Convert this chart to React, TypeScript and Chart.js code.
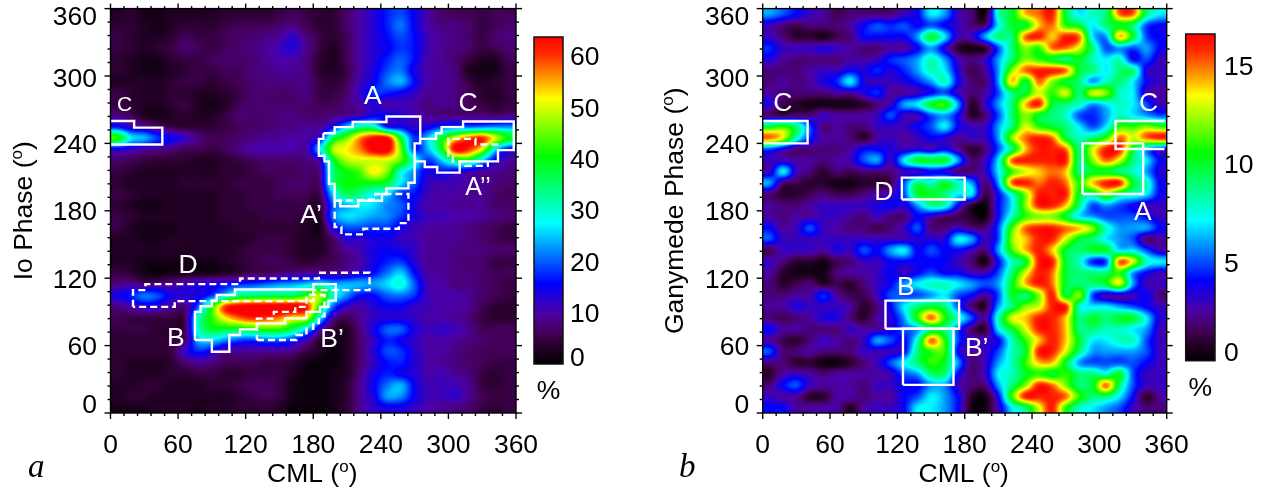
import { useEffect, useRef } from "react";
import { Chart, registerables } from "chart.js";

Chart.register(...registerables);

const FONT = '"Liberation Sans", Arial, sans-serif';
const TEXT_SIZE = 26.5;

// cell centres of the occurrence maps, degrees
const cml = [6, 18, 30, 42, 54, 66, 78, 90, 102, 114, 126, 138, 150, 162, 174, 186, 198, 210, 222, 234, 246, 258, 270, 282, 294, 306, 318, 330, 342, 354];
const phase = [355, 345, 335, 325, 315, 305, 295, 285, 275, 265, 255, 245, 235, 225, 215, 205, 195, 185, 175, 165, 155, 145, 135, 125, 115, 105, 95, 85, 75, 65, 55, 45, 35, 25, 15, 5];

const axisLabels = [0, 60, 120, 180, 240, 300, 360];
const minorTicks = [12, 24, 36, 48, 72, 84, 96, 108, 132, 144, 156, 168, 192, 204, 216, 228, 252, 264, 276, 288, 312, 324, 336, 348];

// one row per phase, top of the map first
const ioPercent = [
  [3, 4, 2, 2, 3, 3, 3, 3, 4, 4, 4, 4, 5, 6, 5, 4, 4, 7, 10, 13, 17, 19, 15, 10, 7, 6, 6, 5, 6, 6],
  [4, 4, 3, 2, 3, 4, 4, 4, 5, 6, 6, 6, 7, 8, 6, 4, 4, 7, 10, 13, 17, 21, 15, 10, 8, 8, 7, 5, 6, 7],
  [5, 4, 3, 3, 4, 6, 5, 5, 6, 7, 7, 8, 9, 12, 8, 5, 4, 6, 10, 13, 16, 19, 16, 11, 9, 8, 7, 5, 7, 8],
  [5, 4, 3, 4, 5, 7, 6, 5, 6, 7, 8, 9, 11, 13, 9, 5, 3, 6, 10, 13, 15, 18, 16, 11, 9, 8, 7, 5, 6, 7],
  [4, 3, 2, 2, 4, 5, 5, 6, 7, 7, 7, 9, 10, 10, 8, 4, 3, 6, 10, 13, 17, 20, 16, 10, 9, 7, 5, 3, 3, 6],
  [4, 3, 2, 2, 3, 4, 5, 5, 6, 6, 8, 8, 9, 9, 8, 4, 3, 5, 10, 14, 19, 21, 14, 10, 9, 8, 3, 2, 2, 5],
  [3, 3, 3, 3, 4, 5, 5, 4, 5, 6, 7, 8, 8, 8, 8, 5, 4, 6, 11, 15, 21, 24, 16, 10, 9, 8, 5, 3, 4, 5],
  [5, 4, 3, 3, 4, 4, 3, 3, 4, 5, 7, 7, 7, 7, 8, 5, 5, 7, 12, 18, 17, 15, 12, 9, 9, 8, 6, 4, 3, 5],
  [5, 4, 3, 3, 4, 5, 3, 2, 3, 6, 7, 7, 7, 7, 7, 6, 6, 8, 10, 13, 10, 11, 10, 8, 9, 8, 6, 5, 4, 5],
  [8, 6, 3, 2, 3, 4, 3, 3, 5, 7, 7, 7, 8, 8, 7, 7, 8, 9, 11, 15, 15, 13, 11, 9, 8, 8, 8, 8, 7, 8],
  [16, 12, 10, 7, 5, 4, 4, 4, 5, 6, 7, 7, 8, 8, 9, 9, 15, 25, 32, 31, 16, 15, 12, 14, 18, 20, 20, 21, 22, 22],
  [42, 27, 24, 18, 15, 12, 8, 6, 6, 7, 8, 9, 9, 10, 10, 14, 36, 45, 56, 63, 63, 38, 18, 25, 38, 50, 58, 61, 50, 40],
  [14, 12, 10, 9, 8, 6, 6, 5, 6, 8, 10, 10, 10, 10, 10, 26, 48, 52, 57, 65, 65, 45, 18, 24, 38, 63, 61, 50, 27, 16],
  [7, 6, 5, 4, 4, 4, 3, 3, 4, 5, 6, 7, 7, 7, 8, 12, 38, 48, 50, 50, 50, 44, 30, 18, 25, 35, 38, 26, 14, 10],
  [5, 4, 3, 3, 3, 3, 3, 3, 4, 4, 5, 6, 6, 6, 7, 9, 34, 40, 44, 52, 46, 30, 22, 14, 16, 14, 12, 10, 9, 8],
  [4, 3, 3, 3, 3, 4, 4, 4, 4, 5, 5, 5, 6, 7, 7, 8, 34, 40, 40, 40, 38, 27, 20, 12, 11, 11, 10, 9, 8, 7],
  [5, 4, 3, 3, 3, 3, 3, 3, 4, 4, 5, 5, 6, 6, 6, 6, 26, 36, 33, 28, 26, 18, 16, 11, 10, 10, 9, 9, 7, 6],
  [4, 3, 2, 2, 3, 3, 3, 3, 4, 4, 5, 5, 5, 5, 5, 4, 20, 24, 27, 26, 22, 20, 14, 10, 10, 9, 9, 9, 7, 7],
  [5, 4, 3, 3, 3, 3, 3, 3, 4, 4, 4, 5, 5, 5, 4, 3, 21, 26, 25, 23, 22, 18, 14, 11, 11, 10, 10, 9, 8, 7],
  [5, 3, 2, 2, 2, 3, 3, 3, 3, 4, 4, 4, 4, 4, 3, 2, 14, 19, 19, 18, 18, 14, 11, 10, 9, 9, 8, 7, 6, 5],
  [3, 3, 2, 2, 3, 3, 3, 3, 3, 3, 4, 5, 5, 4, 3, 3, 7, 13, 12, 14, 14, 12, 11, 9, 9, 9, 8, 7, 6, 5],
  [3, 3, 3, 3, 3, 3, 3, 3, 3, 4, 5, 5, 5, 4, 3, 3, 6, 9, 11, 14, 15, 14, 12, 9, 9, 8, 8, 8, 7, 7],
  [3, 3, 2, 2, 2, 2, 2, 2, 3, 4, 5, 6, 6, 5, 4, 5, 6, 8, 10, 14, 17, 18, 13, 9, 9, 8, 7, 7, 5, 5],
  [5, 4, 2, 1, 2, 2, 2, 2, 3, 4, 6, 6, 7, 8, 9, 9, 9, 10, 13, 16, 21, 25, 16, 10, 9, 8, 8, 7, 6, 6],
  [8, 9, 7, 8, 9, 11, 13, 14, 15, 17, 18, 20, 22, 23, 25, 28, 24, 24, 24, 23, 26, 29, 20, 11, 10, 8, 8, 7, 6, 5],
  [14, 17, 21, 19, 14, 13, 14, 18, 26, 34, 35, 36, 36, 36, 42, 48, 30, 22, 16, 16, 20, 21, 18, 11, 10, 10, 9, 7, 6, 5],
  [8, 10, 13, 12, 9, 8, 20, 40, 60, 64, 66, 66, 66, 66, 62, 40, 20, 12, 10, 13, 15, 15, 12, 11, 10, 10, 9, 6, 4, 4],
  [6, 5, 5, 5, 5, 6, 30, 42, 52, 58, 61, 60, 57, 52, 50, 28, 10, 6, 9, 12, 13, 13, 12, 10, 10, 9, 8, 5, 4, 4],
  [5, 5, 5, 4, 4, 6, 30, 38, 38, 38, 40, 42, 42, 36, 26, 12, 4, 3, 8, 14, 20, 20, 14, 11, 12, 11, 9, 6, 6, 6],
  [4, 4, 4, 4, 5, 7, 24, 26, 22, 19, 18, 20, 20, 17, 11, 4, 2, 3, 7, 12, 17, 15, 12, 10, 10, 9, 8, 7, 6, 6],
  [4, 4, 4, 4, 5, 12, 17, 14, 9, 9, 9, 9, 9, 8, 5, 3, 1, 3, 7, 13, 19, 18, 13, 10, 10, 8, 7, 6, 6, 6],
  [4, 3, 3, 3, 4, 7, 9, 8, 6, 6, 6, 5, 5, 4, 2, 1, 1, 3, 7, 12, 16, 17, 13, 10, 9, 8, 7, 6, 5, 5],
  [4, 3, 3, 3, 4, 4, 5, 5, 4, 4, 5, 5, 5, 3, 1, 1, 2, 3, 8, 14, 17, 15, 13, 10, 11, 9, 8, 5, 4, 5],
  [3, 3, 4, 4, 3, 3, 3, 4, 4, 5, 6, 6, 5, 2, 1, 1, 2, 4, 9, 15, 21, 24, 15, 11, 11, 11, 9, 5, 4, 5],
  [3, 4, 4, 3, 3, 3, 3, 3, 3, 4, 5, 6, 5, 2, 1, 1, 2, 4, 9, 14, 23, 22, 15, 11, 11, 12, 9, 6, 5, 5],
  [2, 2, 2, 3, 3, 3, 2, 3, 3, 4, 4, 4, 3, 1, 1, 1, 2, 4, 9, 12, 14, 14, 12, 10, 9, 8, 7, 5, 4, 5],
];

const ganymedePercent = [
  [6, 5, 4, 3, 2.5, 1.5, 2, 2, 2, 2, 3, 4, 7, 6, 3, 2, 0.5, 8, 10, 14, 15, 16, 10, 7, 8, 9, 15, 15, 9, 7],
  [3, 2, 1.5, 2, 2, 2, 2.5, 4, 5, 4.5, 5, 4, 5, 4, 3, 2, 2, 7, 10, 10, 14, 15, 11, 10, 7, 9, 10, 9, 5, 4],
  [3, 2, 1, 1, 0.5, 1.5, 2, 4, 4, 4, 4, 6, 10, 7, 3, 3, 6, 9, 9, 15, 16, 14, 16, 15, 7, 6, 14, 10, 5, 4],
  [4.5, 3, 3, 3, 3.5, 3, 2.5, 2, 2, 2.5, 2.5, 4, 6, 3.5, 1, 0.5, 1, 5, 9, 12, 11, 15, 15, 13, 9, 5, 6, 5, 6, 4],
  [3.5, 2.5, 2, 2, 2, 2, 2.5, 2.5, 3, 4.5, 5, 6, 8, 6, 3, 2, 3, 6, 9, 12, 11, 10, 9, 10, 8, 7, 8, 4, 5, 3],
  [2, 2, 2, 2.5, 3, 3, 4, 3.5, 4.5, 3.5, 4.5, 6, 8, 7, 3.5, 1.5, 2.5, 6, 12, 15, 16, 16, 15, 10, 9, 7, 9, 9, 3.5, 3],
  [2, 2.5, 2, 2.5, 3.5, 4.5, 7, 3.5, 3, 3, 3.5, 4.5, 6, 8, 4, 2, 2, 6, 14, 10, 15, 12, 10, 9, 6, 8, 9, 7, 4, 3],
  [2.5, 2, 2, 2, 2, 2.5, 2.5, 3.5, 4.5, 2.5, 2.5, 3, 4, 5, 3, 2, 2.5, 5, 9, 10, 13, 11, 13, 9, 13, 12, 8, 7, 3, 2.5],
  [3.5, 1.5, 1, 0.5, 0.5, 0.5, 0.5, 1, 2, 3, 6, 7, 10, 11, 6, 1, 3, 6, 9, 14, 16, 10, 9, 8, 6, 7, 8, 7, 5, 3],
  [2, 1.5, 2, 2, 3, 2.5, 2.5, 2.5, 3, 5, 3, 3, 5, 6, 4, 1, 2, 5, 9, 12, 10, 9, 8, 5, 4.5, 6, 8, 7, 6, 5],
  [10, 11, 9, 5, 2, 2.5, 2, 2, 3, 3, 3, 4, 5, 7, 4, 3, 3, 6, 9, 13, 11, 10, 9, 7, 5, 7, 11, 11, 12, 11],
  [15, 13, 8, 4.5, 2.5, 2.5, 2, 1, 2.5, 3, 2.5, 3, 4, 3.5, 2.5, 3, 3, 6, 12, 15, 16, 15, 10, 8, 9, 11, 15, 13, 15, 16],
  [5, 3.5, 2, 2, 2, 2, 2.5, 4, 4, 3.5, 3, 3.5, 3, 4, 2.5, 1, 2, 5, 9, 14, 16, 16, 15, 9, 13, 16, 16, 10, 6, 4],
  [3, 3, 2.5, 2.5, 2, 2.5, 3, 5, 6, 3, 7, 10, 10, 10, 6, 2, 3, 7, 15, 16, 16, 16, 16, 9, 12, 15, 13, 9, 7, 4],
  [3, 7, 3, 2, 1, 2, 1.5, 2, 2, 2, 3, 3, 4, 3.5, 2, 2, 3, 7, 11, 13, 14, 15, 14, 9, 10, 10, 9, 8, 6, 3.5],
  [6, 2, 1.5, 1, 1, 0.5, 0.5, 1, 1, 1.5, 5, 9, 8, 10, 8, 6, 2, 6, 15, 16, 15, 16, 15, 11, 14, 16, 16, 10, 8, 4],
  [2, 1, 1, 1.5, 2, 1.5, 1.5, 2, 2.5, 3, 5, 10, 10, 9, 7, 7, 1.5, 4, 8, 12, 16, 16, 16, 10, 9, 12, 9, 8, 7, 4],
  [2.5, 2, 2, 2.5, 3, 3, 3, 3, 3.5, 4, 3.5, 6, 8.5, 8, 4, 1, 0.3, 4, 7, 12, 16, 16, 14, 9, 5, 6, 5, 4, 3, 3],
  [2.5, 2, 2.5, 2.5, 3, 3, 2.5, 2, 3, 2, 2, 4, 3, 2, 1.5, 1, 0.3, 4, 8, 11, 12, 12, 10, 7, 6, 5, 5, 5, 4, 3],
  [4, 2.5, 3, 5, 3, 2.5, 2, 2, 1.5, 2, 3, 5, 2, 2, 3, 2, 2, 5, 11, 15, 16, 16, 15, 14, 12, 8, 6, 6, 6, 4],
  [5, 3, 3, 3, 3, 3, 3, 3, 3, 3, 3, 3.5, 3.5, 3.5, 7, 6, 3, 5, 12, 14, 16, 16, 13, 10, 9, 7, 6, 5, 2, 2.5],
  [1.5, 3, 3, 3, 2.5, 3.5, 3, 5, 4, 6, 7, 4, 5, 4, 4, 3, 2, 6, 11, 14, 16, 14, 10, 9, 10, 10, 7, 7, 5, 3],
  [3, 2, 1, 1, 0.5, 1.5, 2, 3, 3, 4, 4, 4, 4, 4, 3, 2, 0.5, 4, 8, 10, 16, 16, 10, 8, 4.5, 5, 15, 13, 8, 7],
  [2.5, 1, 0.5, 0.5, 0.5, 2, 2.5, 2.5, 3, 4, 3, 4, 5, 4, 4, 3, 3, 5, 9, 13, 16, 15, 10, 9, 9, 9, 11, 6, 4, 3],
  [2, 1, 1.5, 2, 1, 1.5, 1, 2, 3, 4, 6, 7, 8, 8, 7, 6, 5, 6, 10, 14, 16, 15, 10, 9, 9, 10, 13, 6, 3, 3],
  [2, 2, 2.5, 2.5, 4.5, 2.5, 1.5, 1.5, 3, 5, 5, 5, 6, 7, 5, 4, 2.5, 5, 10, 9, 12, 16, 10, 12, 5, 3, 3, 3, 4, 2],
  [2.5, 2.5, 3.5, 3, 3, 3, 2.5, 1, 2, 4, 7, 9, 10, 9, 5, 2, 1, 6, 9, 12, 13, 16, 16, 8, 7, 7, 6, 5, 4, 3],
  [2, 1.5, 2, 2.5, 3.5, 3.5, 2, 1, 2.5, 3.5, 6, 11, 15, 11, 8, 5, 2.5, 8, 13, 14, 16, 16, 14, 9, 10, 9, 10, 10, 7, 3.5],
  [4, 2.5, 2.5, 2, 2, 2, 3, 2.5, 2.5, 3.5, 5, 6, 9, 9, 5, 2, 1, 7, 10, 13, 16, 16, 14, 9, 9, 8, 8, 7, 6, 3],
  [2.5, 1.5, 1, 2, 3, 2.5, 2, 3, 6, 5, 4, 8, 15, 11, 5, 3, 3, 4, 8, 11, 14, 16, 14, 10, 7, 7, 8, 8, 5, 3],
  [5, 2, 2, 2.5, 2, 2, 2, 3, 3, 3, 4, 9, 11, 11, 4, 2.5, 3, 5, 8, 10, 16, 16, 13, 9, 6, 6, 6, 6, 5, 3],
  [2, 2, 1, 1, 0.3, 0.3, 1, 2, 3, 5, 7, 9, 11, 10, 6, 2, 3, 6, 8, 11, 14, 14, 10, 6, 5, 5, 5, 5, 4, 3],
  [1, 2.5, 3, 2.5, 2, 2.5, 2.5, 2.5, 2.5, 3, 5, 6, 9, 9, 4, 2, 3, 7, 8, 10, 11, 10, 11, 9, 9, 8, 10, 5, 3, 3],
  [2, 4, 5, 3, 2.5, 2.5, 2.5, 2, 3, 3, 4, 4, 6, 6, 3, 2, 2, 6, 9, 12, 16, 15, 12, 9, 10, 15, 9, 5, 3, 3],
  [3, 2.5, 2.5, 1, 1, 2.5, 2.5, 2, 2.5, 2.5, 4, 5, 7, 6, 4, 1, 0.5, 4, 11, 16, 16, 16, 15, 11, 9, 9, 7, 4, 1, 2.5],
  [4, 4, 2.5, 2.5, 2.5, 2.5, 0.8, 2.5, 3, 3, 4, 7, 7, 6, 4, 0.5, 0.5, 3, 7, 9, 13, 16, 11, 8, 7, 6, 5, 3, 2, 2],
];

const ioMax = 63.7;
const ganymedeMax = 16.6;
const ioBarLabels = [0, 10, 20, 30, 40, 50, 60];
const ganymedeBarLabels = [0, 5, 10, 15];

// region outlines as [cml, phase]
const ioSolid = [
  [[0, 260], [21, 260], [21, 254], [46, 254], [46, 239], [0, 239]],
  [[189, 249], [199, 249], [199, 254.5], [215, 254.5], [215, 259], [245, 259], [245, 264], [275, 264], [275, 240], [270, 240], [270, 205], [264.5, 205], [264.5, 200], [245, 200], [245, 195], [241, 195], [241, 189], [220, 189], [220, 184], [204, 184], [204, 189], [199, 189], [199, 204], [194, 204], [194, 224], [190, 224], [190, 229], [185, 229], [185, 244], [189, 244], [189, 249]],
  [[275, 244], [289, 244], [289, 249], [294, 249], [294, 254.5], [313, 254.5], [313, 259.5], [358, 259.5], [358, 234], [344, 234], [344, 224], [310, 224], [310, 214], [290, 214], [290, 219], [279, 219], [279, 224], [270, 224]],
  [[75, 65], [90, 65], [90, 54.5], [105.5, 54.5], [105.5, 69.4], [115, 69.4], [115, 74.4], [130, 74.4], [130, 79.7], [155, 79.7], [155, 84.2], [174, 84.2], [174, 90], [186, 90], [186, 94.5], [193.5, 94.5], [193.5, 100], [200, 100], [200, 114.7], [180, 114.7], [180, 110], [110.5, 110], [110.5, 105], [94.3, 105], [94.3, 100], [90, 100], [90, 95], [80, 95], [80, 90], [75, 90], [75, 65]],
];
const ioDashed = [
  [[199, 189], [199, 165.6], [205, 165.6], [205, 159], [224.5, 159], [224.5, 164], [256, 164], [256, 169], [264.5, 169], [264.5, 195], [235, 195], [235, 190], [206, 189], [199, 189]],
  [[344.4, 239], [324, 239], [324, 244], [300, 244], [300, 229], [304, 229], [304, 224], [315, 224], [315, 220], [335, 220], [335, 224]],
  [[20, 94.5], [20, 109.4], [31, 109.4], [31, 114.7], [115, 114.7], [115, 119.7], [185, 119.7], [185, 124.8], [230, 124.8], [230, 109.4], [198, 109.4], [180, 109.4], [180, 99.6], [57, 99.6], [57, 94.5], [20, 94.5]],
  [[130, 65], [165, 65], [165, 69.4], [174, 69.4], [174, 75], [180, 75], [180, 80], [185, 80], [185, 86], [190, 86], [190, 105], [174, 105], [174, 94.5], [164, 94.5], [164, 90], [145, 90], [145, 84], [130, 84], [130, 65]],
];
const ganymedeSolid = [
  [[0, 260], [40, 260], [40, 240], [0, 240]],
  [[124, 190], [124, 209.5], [180, 209.5], [180, 190], [124, 190]],
  [[109.4, 75], [109.4, 100], [175, 100], [175, 75], [109.4, 75]],
  [[125, 25], [125, 75], [170, 75], [170, 25], [125, 25]],
  [[285, 195], [285, 240], [339, 240], [339, 195], [285, 195]],
  [[358, 260], [314.4, 260], [314.4, 235], [358, 235]],
];

const ioNotes = [
  { text: "C", cml: 12.6, phase: 269, size: 21 },
  { text: "A", cml: 233, phase: 275, size: TEXT_SIZE },
  { text: "C", cml: 317.5, phase: 269, size: TEXT_SIZE },
  { text: "A’’", cml: 326.3, phase: 193.8, size: 25 },
  { text: "A’", cml: 178, phase: 168.9, size: TEXT_SIZE },
  { text: "D", cml: 68.9, phase: 124.4, size: TEXT_SIZE },
  { text: "B", cml: 58, phase: 59.6, size: TEXT_SIZE },
  { text: "B’", cml: 196.7, phase: 58.7, size: TEXT_SIZE },
];
const ganymedeNotes = [
  { text: "C", cml: 18, phase: 269, size: TEXT_SIZE },
  { text: "D", cml: 108, phase: 190, size: TEXT_SIZE },
  { text: "B", cml: 127.6, phase: 105, size: TEXT_SIZE },
  { text: "B’", cml: 190.7, phase: 50.7, size: TEXT_SIZE },
  { text: "A", cml: 338.7, phase: 171.5, size: TEXT_SIZE },
  { text: "C", cml: 343.8, phase: 269, size: TEXT_SIZE },
];

const colorStops: [number, number, number, number][] = [
  [0, 0, 0, 0],
  [0.063, 45, 0, 50],
  [0.1, 70, 0, 95],
  [0.155, 75, 0, 165],
  [0.247, 0, 0, 255],
  [0.37, 0, 170, 255],
  [0.43, 0, 255, 255],
  [0.635, 0, 255, 0],
  [0.813, 255, 255, 0],
  [0.87, 255, 160, 0],
  [0.95, 255, 40, 0],
  [1, 255, 0, 0],
];

function colorAt(t: number) {
  const v = Math.min(1, Math.max(0, t));
  for (let i = 1; i < colorStops.length; i++) {
    const a = colorStops[i - 1];
    const b = colorStops[i];
    if (v <= b[0]) {
      const f = (v - a[0]) / (b[0] - a[0]);
      return [a[1] + (b[1] - a[1]) * f, a[2] + (b[2] - a[2]) * f, a[3] + (b[3] - a[3]) * f];
    }
  }
  return [255, 0, 0];
}

function spline(p0: number, p1: number, p2: number, p3: number, t: number) {
  return p1 + 0.5 * t * (p2 - p0 + t * (2 * p0 - 5 * p1 + 4 * p2 - p3 + t * (3 * (p1 - p2) + p3 - p0)));
}

// smooth reading of the cell table, the way the original map is shaded
function sample(grid: number[][], x: number, y: number) {
  const fx = (x - cml[0]) / 12;
  const fy = (phase[0] - y) / 10;
  const ix = Math.floor(fx);
  const iy = Math.floor(fy);
  const rows: number[] = [];
  for (let j = -1; j <= 2; j++) {
    const row = grid[Math.min(grid.length - 1, Math.max(0, iy + j))];
    const at = (i: number) => row[Math.min(row.length - 1, Math.max(0, i))];
    rows.push(spline(at(ix - 1), at(ix), at(ix + 1), at(ix + 2), fx - ix));
  }
  return spline(rows[0], rows[1], rows[2], rows[3], fy - iy);
}

function heatmapPlugin(grid: number[][], max: number) {
  return {
    id: "heatmap",
    beforeDatasetsDraw(chart: any) {
      const { left, top, width, height } = chart.chartArea;
      const w = Math.round(width);
      const h = Math.round(height);
      const off = document.createElement("canvas");
      off.width = w;
      off.height = h;
      const octx = off.getContext("2d")!;
      const img = octx.createImageData(w, h);
      for (let py = 0; py < h; py++) {
        const y = chart.scales.y.getValueForPixel(top + py + 0.5);
        for (let px = 0; px < w; px++) {
          const x = chart.scales.x.getValueForPixel(left + px + 0.5);
          const c = colorAt(sample(grid, x, y) / max);
          const k = (py * w + px) * 4;
          img.data[k] = c[0];
          img.data[k + 1] = c[1];
          img.data[k + 2] = c[2];
          img.data[k + 3] = 255;
        }
      }
      octx.putImageData(img, 0, 0);
      chart.ctx.drawImage(off, left, top, width, height);
    },
  };
}

function drawTitle(ctx: CanvasRenderingContext2D, x: number, y: number, name: string) {
  // name, then a raised "o" for the degree sign
  ctx.textAlign = "left";
  ctx.textBaseline = "alphabetic";
  ctx.font = `${TEXT_SIZE}px ${FONT}`;
  const a = ctx.measureText(name + " (").width;
  const b = ctx.measureText(")").width;
  ctx.font = `17px ${FONT}`;
  const o = ctx.measureText("o").width;
  const start = x - (a + b + o) / 2;
  ctx.font = `${TEXT_SIZE}px ${FONT}`;
  ctx.fillText(name + " (", start, y);
  ctx.fillText(")", start + a + o, y);
  ctx.font = `17px ${FONT}`;
  ctx.fillText("o", start + a, y - 10);
}

function axesPlugin(yTitle: string, titleX: number, letter: string, letterX: number, notes: typeof ioNotes) {
  return {
    id: "axes",
    afterDraw(chart: any) {
      const { ctx, chartArea } = chart;
      const { left, right, top, bottom } = chartArea;
      const { x, y } = chart.scales;
      ctx.save();
      ctx.strokeStyle = "#000";
      ctx.fillStyle = "#000";
      ctx.lineWidth = 1.4;
      ctx.strokeRect(left, top, right - left, bottom - top);
      const tick = (a: number, b: number, c: number, d: number) => {
        ctx.beginPath();
        ctx.moveTo(a, b);
        ctx.lineTo(c, d);
        ctx.stroke();
      };
      for (const v of axisLabels) {
        tick(x.getPixelForValue(v), bottom, x.getPixelForValue(v), bottom + 6);
        tick(x.getPixelForValue(v), top, x.getPixelForValue(v), top - 5);
        tick(left, y.getPixelForValue(v), left - 6, y.getPixelForValue(v));
        tick(right, y.getPixelForValue(v), right + 6, y.getPixelForValue(v));
      }
      for (const v of minorTicks) {
        tick(x.getPixelForValue(v), bottom, x.getPixelForValue(v), bottom + 3);
        tick(x.getPixelForValue(v), top, x.getPixelForValue(v), top - 2.5);
        tick(left, y.getPixelForValue(v), left - 3, y.getPixelForValue(v));
        tick(right, y.getPixelForValue(v), right + 3, y.getPixelForValue(v));
      }
      ctx.font = `${TEXT_SIZE}px ${FONT}`;
      ctx.textBaseline = "alphabetic";
      ctx.textAlign = "center";
      for (const v of axisLabels) {
        ctx.fillText(String(v), x.getPixelForValue(v), bottom + 40);
      }
      ctx.textAlign = "right";
      for (const v of axisLabels) {
        // the end labels sit inside the axis range, as in the original
        const shift = v === 0 ? -10 : v === 360 ? 7 : v === 300 ? 1.5 : 0;
        ctx.fillText(String(v), left - 13.5, y.getPixelForValue(v) + shift + 9.5);
      }
      drawTitle(ctx, (left + right) / 2 - 1, bottom + 69, "CML");
      ctx.save();
      ctx.translate(titleX, (top + bottom) / 2);
      ctx.rotate(-Math.PI / 2);
      drawTitle(ctx, 0, 0, yTitle);
      ctx.restore();
      ctx.font = `italic 33px "Liberation Serif", serif`;
      ctx.textAlign = "left";
      ctx.fillText(letter, letterX, bottom + 63.5);
      ctx.fillStyle = "#fff";
      ctx.textAlign = "center";
      for (const n of notes) {
        ctx.font = `${n.size}px ${FONT}`;
        ctx.fillText(n.text, x.getPixelForValue(n.cml), y.getPixelForValue(n.phase));
      }
      ctx.restore();
    },
  };
}

function outlines(solid: number[][][], dashed: number[][][]) {
  const make = (path: number[][], dash: number[]) => ({
    data: path.map(([x, y]) => ({ x, y })),
    showLine: true,
    borderColor: "#fff",
    borderWidth: 2.4,
    borderDash: dash,
    pointRadius: 0,
    fill: false,
  });
  return [...solid.map((p) => make(p, [])), ...dashed.map((p) => make(p, [7, 4]))];
}

function MapPanel({ left, width, padLeft, padRight, grid, max, solid, dashed, yTitle, titleX, letter, letterX, notes }: any) {
  const canvasRef = useRef<HTMLCanvasElement | null>(null);

  useEffect(() => {
    if (!canvasRef.current) {
      return;
    }
    const chart = new Chart(canvasRef.current, {
      type: "scatter",
      data: { datasets: outlines(solid, dashed) },
      options: {
        animation: false,
        responsive: false,
        devicePixelRatio: 1,
        layout: { padding: { left: padLeft, right: padRight, top: 8.6, bottom: 78 } },
        plugins: { legend: { display: false }, tooltip: { enabled: false } },
        scales: {
          x: { type: "linear", min: 0, max: 360, display: false },
          y: { type: "linear", min: 0, max: 360, display: false },
        },
      },
      plugins: [heatmapPlugin(grid, max), axesPlugin(yTitle, titleX, letter, letterX, notes)],
    } as any);
    return () => chart.destroy();
  }, []);

  return (
    <canvas ref={canvasRef} width={width} height={491} style={{ position: "absolute", left, top: 0, display: "block" }} />
  );
}

function ColorBar({ left, width, padLeft, padRight, padTop, padBottom, max, labels, labelX, zeroShift }: any) {
  const canvasRef = useRef<HTMLCanvasElement | null>(null);

  useEffect(() => {
    if (!canvasRef.current) {
      return;
    }
    const chart = new Chart(canvasRef.current, {
      type: "scatter",
      data: { datasets: [{ data: [] }] },
      options: {
        animation: false,
        responsive: false,
        devicePixelRatio: 1,
        layout: { padding: { left: padLeft, right: padRight, top: padTop, bottom: padBottom } },
        plugins: { legend: { display: false }, tooltip: { enabled: false } },
        scales: {
          x: { type: "linear", min: 0, max: 1, display: false },
          y: { type: "linear", min: 0, max, display: false },
        },
      },
      plugins: [
        {
          id: "bar",
          afterDraw(c: any) {
            const { ctx, chartArea } = c;
            const { left: l, right: r, top: t, bottom: b } = chartArea;
            const y = c.scales.y;
            ctx.save();
            for (let py = Math.floor(t); py < b; py++) {
              const col = colorAt(y.getValueForPixel(py + 0.5) / max);
              ctx.fillStyle = `rgb(${col[0]},${col[1]},${col[2]})`;
              ctx.fillRect(l, py, r - l, 1);
            }
            ctx.strokeStyle = "#111";
            ctx.lineWidth = 1.5;
            ctx.strokeRect(l, t, r - l, b - t);
            ctx.fillStyle = "#000";
            ctx.font = `${TEXT_SIZE}px ${FONT}`;
            ctx.textBaseline = "alphabetic";
            ctx.textAlign = "left";
            for (const v of labels) {
              ctx.fillText(String(v), labelX, y.getPixelForValue(v) + (v === 0 ? zeroShift : 0) + 9.5);
            }
            ctx.textAlign = "center";
            ctx.fillText("%", (l + r) / 2, b + 35);
            ctx.restore();
          },
        },
      ],
    } as any);
    return () => chart.destroy();
  }, []);

  return (
    <canvas ref={canvasRef} width={width} height={491} style={{ position: "absolute", left, top: 0, display: "block" }} />
  );
}

export default function App() {
  return (
    <div style={{ position: "absolute", left: 0, top: 0, width: 1262, height: 491, background: "#fff", overflow: "hidden" }}>
      <MapPanel
        left={0}
        width={631}
        padLeft={110.5}
        padRight={115}
        grid={ioPercent}
        max={ioMax}
        solid={ioSolid}
        dashed={ioDashed}
        yTitle="Io Phase"
        titleX={32}
        letter="a"
        letterX={28}
        notes={ioNotes}
      />
      <MapPanel
        left={631}
        width={631}
        padLeft={131.7}
        padRight={95.3}
        grid={ganymedePercent}
        max={ganymedeMax}
        solid={ganymedeSolid}
        dashed={[]}
        yTitle="Ganymede Phase"
        titleX={52}
        letter="b"
        letterX={48}
        notes={ganymedeNotes}
      />
      <ColorBar left={525} width={95} padLeft={9} padRight={57} padTop={37} padBottom={127} max={ioMax} labels={ioBarLabels} labelX={45} zeroShift={-8} />
      <ColorBar left={1176} width={86} padLeft={9.7} padRight={47} padTop={34} padBottom={130.3} max={ganymedeMax} labels={ganymedeBarLabels} labelX={48} zeroShift={-9} />
    </div>
  );
}
